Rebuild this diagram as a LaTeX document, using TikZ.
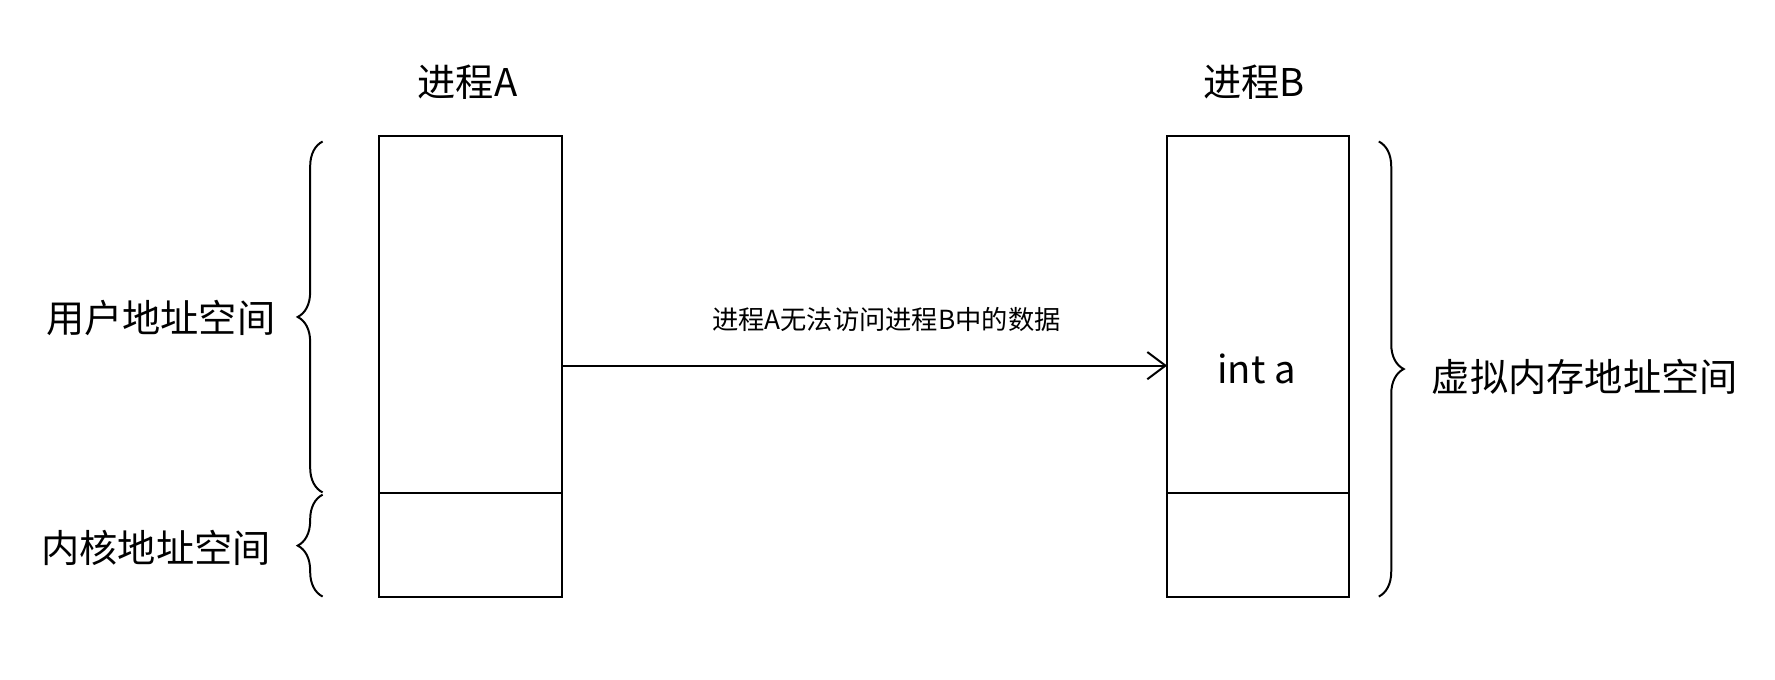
\documentclass[tikz,border=0pt]{standalone}
\usepackage{fontspec}
\setmainfont{Noto Sans CJK SC}
\usetikzlibrary{decorations.pathreplacing,arrows.meta}
\begin{document}
\begin{tikzpicture}[x=0.01cm,y=-0.01cm,line width=0.5pt,
	memblock/.style={draw,minimum width=1.61cm,inner sep=0pt,outer sep=0pt},
	bigtext/.style={font=\fontsize{9.6pt}{11pt}\selectfont},
	smalltext/.style={font=\fontsize{6.6pt}{8pt}\selectfont},
	bracebar/.style={decorate,decoration={brace,amplitude=0.22cm}}]
	\useasboundingbox (0,0) rectangle (1568,600);
	% process A
	\node[memblock,minimum height=3.15cm,anchor=north west] (userA) at (335,120) {};
	\node[memblock,minimum height=0.92cm,anchor=north west] (kernA) at (userA.south west) {};
	\node[bigtext] (titleA) at (413,73) {进程A};
	% process B
	\node[memblock,minimum height=3.15cm,anchor=north west] (userB) at (1031,120) {};
	\node[memblock,minimum height=0.92cm,anchor=north west] (kernB) at (userB.south west) {};
	\node[bigtext] (titleB) at (1108,73) {进程B};
	\node[bigtext] (vara) at (1110,326) {int a};
	% braces
	\coordinate (ub1) at (285,435); \coordinate (ub2) at (285,125);
	\coordinate (kb1) at (285,527); \coordinate (kb2) at (285,437);
	\coordinate (vb1) at (1218,125); \coordinate (vb2) at (1218,527);
	\draw[bracebar] (ub1) -- (ub2);
	\draw[bracebar] (kb1) -- (kb2);
	\draw[bracebar] (vb1) -- (vb2);
	\node[bigtext] (userlbl) at (142,281) {用户地址空间};
	\node[bigtext] (kernlbl) at (138,484) {内核地址空间};
	\node[bigtext] (virtlbl) at (1400,333) {虚拟内存地址空间};
	% access arrow
	\coordinate (arrA) at (496,323); \coordinate (arrB) at (1031,323);
	\draw[-{Straight Barb[length=1.6mm,width=2.4mm]}] (arrA) -- (arrB);
	\node[smalltext] (arrlbl) at (783,282) {进程A无法访问进程B中的数据};
\end{tikzpicture}
\end{document}
